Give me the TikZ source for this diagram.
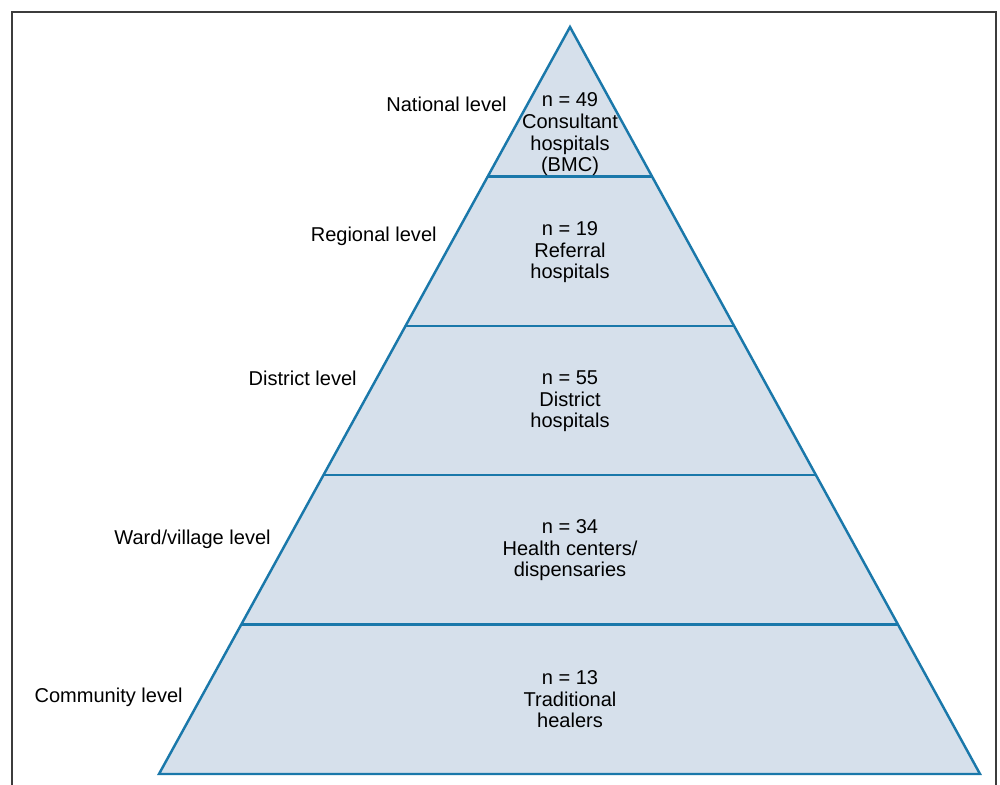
\documentclass[tikz,border=0pt]{standalone}
\usepackage{fontspec}
\setmainfont{Liberation Sans}
\usetikzlibrary{calc}

\definecolor{tierfill}{HTML}{D6E0EB}
\definecolor{tierline}{HTML}{1A78AA}
\definecolor{framegray}{HTML}{3C3C3C}

\tikzset{
  levellabel/.style={anchor=base east,inner sep=0pt,font=\fontsize{11.4}{12.5}\selectfont},
  countlabel/.style={anchor=base,align=center,inner sep=0pt,font=\fontsize{11.4}{12.5}\selectfont},
  tierrule/.style={tierline,line width=1.4pt}
}

\begin{document}
\begin{tikzpicture}
		\useasboundingbox (0,0) rectangle (20,15.7);

		% outer frame (open at the bottom)
		\draw[framegray,line width=1.1pt] (0.24,0) -- (0.24,15.46) -- (19.92,15.46) -- (19.92,0);

		% pyramid corners
		\coordinate (apex) at (11.4,15.16);
		\coordinate (bl) at (3.18,0.22);
		\coordinate (br) at (19.6,0.22);

		% pyramid body
		\fill[tierfill] (apex) -- (br) -- (bl) -- cycle;

		% tier dividers
		\foreach \f/\n in {0.2/a,0.4/b,0.6/c,0.8/d} {
			\coordinate (l\n) at ($(apex)!\f!(bl)$);
			\coordinate (r\n) at ($(apex)!\f!(br)$);
			\draw[tierrule] (l\n) -- (r\n);
		}

		% pyramid outline
		\draw[tierrule,line join=miter] (apex) -- (br) -- (bl) -- cycle;

		% level names
		\node[levellabel] (national) at (10.14,13.46) {National level};
		\node[levellabel] (regional) at (8.74,10.86) {Regional level};
		\node[levellabel] (district) at (7.14,7.98) {District level};
		\node[levellabel] (ward) at (5.42,4.80) {Ward/village level};
		\node[levellabel] (community) at (3.66,1.64) {Community level};

		% counts inside the tiers (base = last line)
		\node[countlabel] (n49) at (11.4,12.26) {n = 49\\Consultant\\hospitals\\(BMC)};
		\node[countlabel] (n19) at (11.4,10.12) {n = 19\\Referral\\hospitals};
		\node[countlabel] (n55) at (11.4,7.14) {n = 55\\District\\hospitals};
		\node[countlabel] (n34) at (11.4,4.16) {n = 34\\Health centers/\\dispensaries};
		\node[countlabel] (n13) at (11.4,1.14) {n = 13\\Traditional\\healers};
	\end{tikzpicture}
\end{document}
